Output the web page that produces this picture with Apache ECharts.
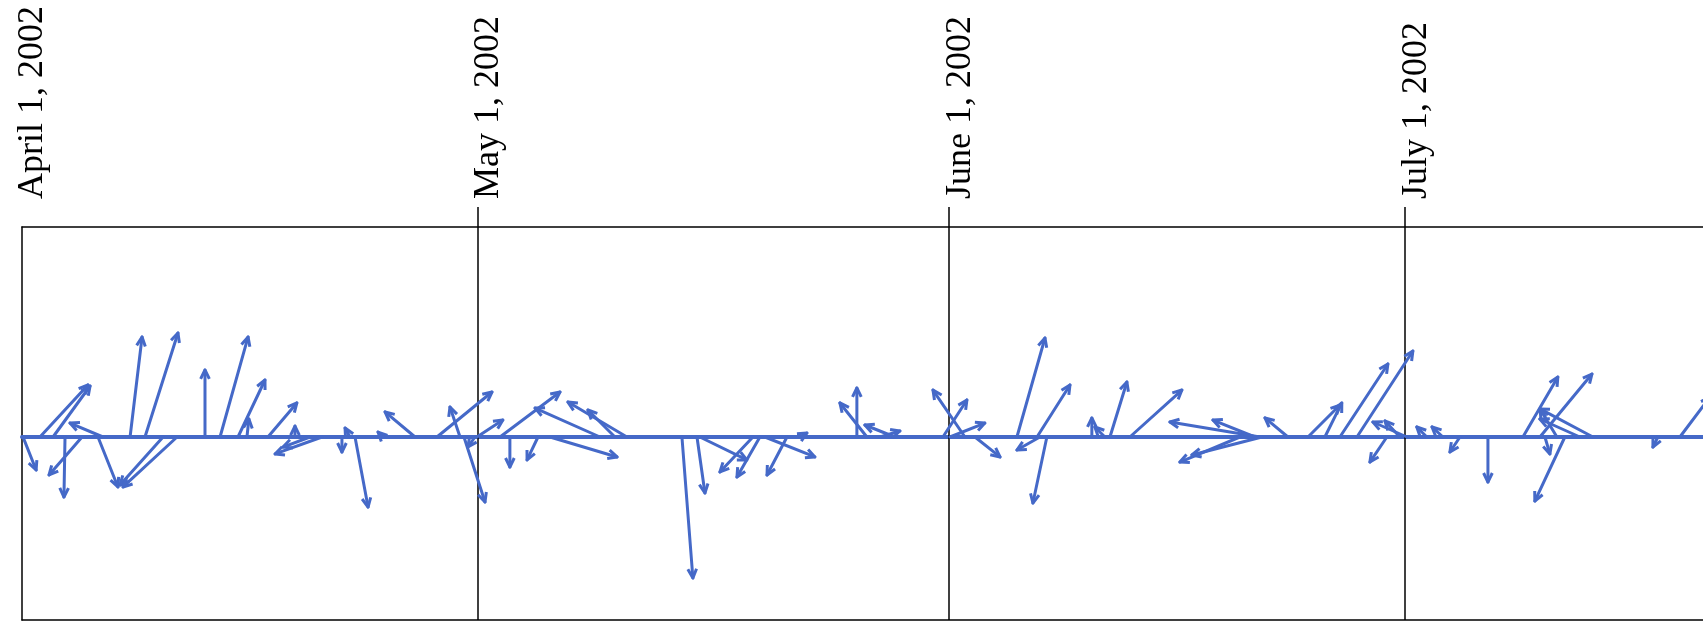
<!DOCTYPE html>
<html>
<head>
<meta charset="utf-8">
<script src="https://cdn.jsdelivr.net/npm/echarts@6/dist/echarts.min.js"></script>
<style>
html,body{margin:0;padding:0;background:#fff;}
#chart{width:1703px;height:621px;}
</style>
</head>
<body>
<div id="chart"></div>
<script>
// Tick labels (days since 2002-04-01) and names
const monthDays = [0, 30, 61, 91];
const monthLabels = ['April 1, 2002', 'May 1, 2002', 'June 1, 2002', 'July 1, 2002'];

// Stick-vector data: start time (days since April 1, 2002), east (u) and north (v) components
const days = [0.07, 1.18, 2.04, 2.83, 3.95, 5.0, 5.33, 7.11, 8.09, 9.28, 10.2, 12.04, 13.03, 14.21, 14.8, 16.18, 17.96, 18.95, 19.74, 21.05, 21.58, 21.91, 23.75, 25.86,
  27.3, 28.82, 29.08, 29.8, 29.93, 31.45, 32.1, 33.95, 34.74, 38.03, 39.01, 39.8, 43.42, 44.41, 44.6, 48.09, 48.55, 50.33, 48.88, 51.18, 54.93, 55.59, 56.45, 57.43,
  60.59, 61.05, 62.04, 62.7, 65.46, 66.78, 67.43, 66.97, 70.39, 71.58, 71.25, 72.89, 80.13, 81.12, 81.45, 81.58, 83.29, 84.61, 85.72, 86.71, 87.83, 89.8, 90.66, 91.12,
  92.43, 93.49, 94.61, 96.45, 98.75, 99.87, 100.2, 100.99, 101.51, 102.5, 103.36, 107.63, 109.08];
const uComp = [0.87, 3.2, 2.47, -0.07, -2.2, 1.33, -2.2, 0.8, 2.2, -2.87, -3.6, 0, 1.87, 1.8, 0.13, 1.93, 0, -1.8, -3.13, 0, -0.33, 0.87, -0.33, -2.0,
  3.67, -0.67, 1.4, -0.47, 1.73, 4.0, 0, -0.73, 4.47, -4.33, -1.8, -3.93, 0.73, 0.53, 3.13, -2.2, -1.53, -1.33, 3.33, 0.47, 0, -1.8, 1.33, -2.0,
  1.6, 2.33, -2.13, 1.67, 1.87, 2.2, -0.93, -1.53, 0, 1.13, -0.67, 3.47, -4.0, -2.8, -6.0, -4.67, -1.53, 2.13, 1.13, 3.2, 3.73, -1.13, -1.0, -2.27,
  -0.67, -0.73, -0.67, 0, 2.33, 3.47, 0.33, -1.13, -2.0, -2.67, -3.53, -0.33, 2.0];
const vComp = [-2.2, 3.47, 3.4, -4.0, -2.53, -3.33, 0.93, 6.67, 6.93, -3.2, -3.33, 4.47, 6.67, 3.8, 1.2, 2.27, 0.73, -0.67, -1.13, -1.0, 0.6, -4.67, 0.33, 1.67,
  3.0, 2.0, -4.33, -0.67, 1.13, 3.0, -2.0, -1.53, -1.33, 1.93, 1.8, 2.33, -9.4, -3.73, -1.53, -2.33, -2.67, -2.53, -1.33, 0.27, 3.27, 2.27, 0.4, 0.8,
  2.47, 0.93, 3.13, -1.33, 6.6, 3.47, -4.4, -0.87, 1.27, 3.67, 0.67, 3.13, -1.67, 1.13, 1.0, -1.2, 1.27, 2.13, 2.27, 4.87, 5.73, -1.67, 1.07, 1.0,
  0.67, 0.67, -1.0, -3.0, 4.0, 4.2, -1.13, 1.87, -4.27, 1.2, 1.87, -0.67, 2.67];

const BLUE = '#4569c8';
const chart = echarts.init(document.getElementById('chart'), null, {renderer: 'canvas'});

const data = days.map((d, i) => [d, uComp[i], vComp[i]]);

function renderItem(params, api) {
  const t = api.value(0), u = api.value(1), v = api.value(2);
  const s = api.coord([t, 0]);
  const k = api.size([0, 1])[1];
  const e = [s[0] + u * k, s[1] - v * k];
  const ang = Math.atan2(e[1] - s[1], e[0] - s[0]);
  const L = 10, a = 0.45;
  const p1 = [e[0] - L * Math.cos(ang - a), e[1] - L * Math.sin(ang - a)];
  const p2 = [e[0] - L * Math.cos(ang + a), e[1] - L * Math.sin(ang + a)];
  return {
    type: 'group',
    children: [
      {type: 'line', shape: {x1: s[0], y1: s[1], x2: e[0], y2: e[1]}, style: {stroke: BLUE, lineWidth: 3, lineCap: 'round'}},
      {type: 'polyline', shape: {points: [p1, e, p2]}, style: {stroke: BLUE, fill: null, lineWidth: 3, lineJoin: 'round'}}
    ]
  };
}

const blackLine = {show: true, onZero: false, lineStyle: {color: '#000', width: 1.5}};

chart.setOption({
  animation: false,
  backgroundColor: '#fff',
  grid: {left: 22, right: 0, top: 227, bottom: 1, show: false},
  xAxis: [
    {
      type: 'value', position: 'top', min: 0, max: 110.6,
      axisLine: blackLine,
      axisTick: {show: true, inside: false, length: 20, customValues: monthDays.slice(1), lineStyle: {color: '#000', width: 1.5}},
      axisLabel: {
        show: true, customValues: monthDays, rotate: -90, margin: 28,
        fontFamily: 'Liberation Serif', fontSize: 36, color: '#000',
        verticalAlign: 'top', lineHeight: 22,
        formatter: (val) => monthLabels[monthDays.indexOf(Math.round(val))] || ''
      },
      splitLine: {show: false}
    },
    {
      type: 'value', position: 'bottom', min: 0, max: 110.6,
      axisLine: {show: true, onZero: true, lineStyle: {color: BLUE, width: 4}},
      axisTick: {show: false}, axisLabel: {show: false}, splitLine: {show: false}
    },
    {
      type: 'value', position: 'bottom', min: 0, max: 110.6,
      axisLine: blackLine,
      axisTick: {show: false}, axisLabel: {show: false}, splitLine: {show: false}
    }
  ],
  yAxis: {
    type: 'value', min: -12.2, max: 14, position: 'left',
    axisLine: blackLine, axisTick: {show: false}, axisLabel: {show: false}, splitLine: {show: false}
  },
  series: [
    {
      type: 'custom', xAxisIndex: 0, yAxisIndex: 0, clip: true, silent: true,
      renderItem: renderItem,
      data: data,
      markLine: {
        silent: true, symbol: 'none', label: {show: false},
        lineStyle: {color: '#000', width: 1.5, type: 'solid'},
        data: monthDays.slice(1).map(d => ({xAxis: d}))
      },
      z: 5
    }
  ]
});
</script>
</body>
</html>
